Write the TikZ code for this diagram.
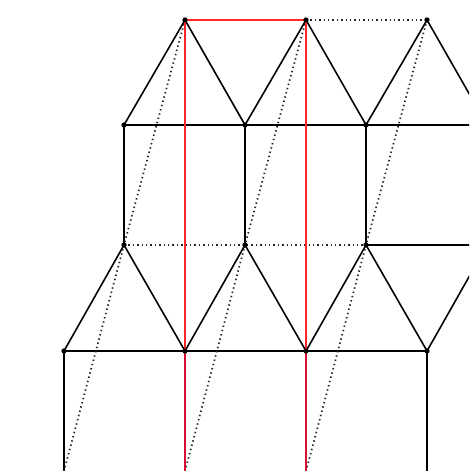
\documentclass[tikz,border=0pt]{standalone}
\definecolor{lowred}{RGB}{215,15,50}
\definecolor{topred}{RGB}{255,40,40}
\tikzset{
  edge/.style={line width=0.45pt, black},
  dotline/.style={line width=0.5pt, dash pattern=on 0.4pt off 0.85pt, black!85},
  redline/.style={line width=0.5pt, topred},
  redlow/.style={line width=0.55pt, lowred},
  vdot/.style={fill=black}
}
\begin{document}
\begin{tikzpicture}[x=0.01cm,y=-0.01cm]
\useasboundingbox (0,0) rectangle (469,471);
\clip (0,0) rectangle (469,471);
% vertices
\coordinate (A1) at (185,20);
\coordinate (A2) at (306,20);
\coordinate (A3) at (427,20);
\coordinate (B0) at (124,125);
\coordinate (B1) at (245,125);
\coordinate (B2) at (366,125);
\coordinate (B3) at (487,125);
\coordinate (C0) at (124,245);
\coordinate (C1) at (245,245);
\coordinate (C2) at (366,245);
\coordinate (C3) at (487,245);
\coordinate (D0) at (64,351);
\coordinate (D1) at (185,351);
\coordinate (D2) at (306,351);
\coordinate (D3) at (427,351);
\coordinate (E0) at (64,471);
\coordinate (E1) at (185,471);
\coordinate (E2) at (306,471);
\coordinate (E3) at (427,471);
% top triangles
\draw[edge] (B0) -- (A1) -- (B1) -- (A2) -- (B2) -- (A3) -- (B3);
% squares row
\draw[edge] (B0) -- (B3);
\draw[edge] (B0) -- (C0);
\draw[edge] (B1) -- (C1);
\draw[edge] (B2) -- (C2);
\draw[edge] (C2) -- (C3);
% middle triangles
\draw[edge] (D0) -- (C0) -- (D1) -- (C1) -- (D2) -- (C2) -- (D3) -- (C3);
\draw[edge] (D0) -- (D3);
% bottom squares
\draw[edge] (D0) -- (E0);
\draw[edge] (D1) -- (E1);
\draw[edge] (D2) -- (E2);
\draw[edge] (D3) -- (E3);
% dotted lines
\draw[dotline] (A2) -- (A3);
\draw[dotline] (C0) -- (C2);
\draw[dotline] (A1) -- (C0) -- (E0);
\draw[dotline] (A2) -- (C1) -- (E1);
\draw[dotline] (A3) -- (C2) -- (E2);
% red path
\draw[redline] (D1) -- (A1) -- (A2) -- (D2);
\draw[redlow] (D1) -- (E1);
\draw[redlow] (D2) -- (E2);
% vertex dots
\foreach \p in {A1,A2,A3,B0,B1,B2,C0,C1,C2,D0,D1,D2,D3}
  \fill[vdot] (\p) circle (0.75pt);
\end{tikzpicture}
\end{document}
